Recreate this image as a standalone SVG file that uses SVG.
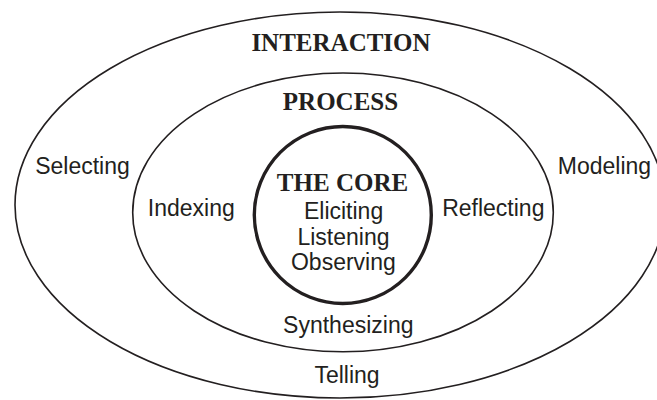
<svg xmlns="http://www.w3.org/2000/svg" width="657" height="400" viewBox="0 0 657 400">
  <style>
    .ring { fill: none; stroke: #231f20; stroke-width: 1.6; }
    .core { fill: none; stroke: #231f20; stroke-width: 3.4; }
    .title { font-family: "Liberation Serif", "Times New Roman", serif; font-weight: bold; font-size: 25px; fill: #231f20; text-anchor: middle; }
    .item { font-family: "Liberation Sans", Arial, Helvetica, sans-serif; font-size: 23px; fill: #231f20; text-anchor: middle; }
  </style>
  <rect width="657" height="400" fill="#ffffff"/>

  <!-- outer ring: interaction -->
  <g id="interaction">
    <ellipse class="ring" cx="340" cy="205" rx="325" ry="193"/>
    <text class="title" x="341" y="51">INTERACTION</text>
    <text class="item" x="82.5" y="174">Selecting</text>
    <text class="item" x="604.5" y="174">Modeling</text>
    <text class="item" x="347" y="383">Telling</text>
  </g>

  <!-- middle ring: process -->
  <g id="process">
    <ellipse class="ring" cx="343" cy="212.4" rx="210.3" ry="139.4"/>
    <text class="title" x="340.5" y="110">PROCESS</text>
    <text class="item" x="191.3" y="215.5">Indexing</text>
    <text class="item" x="493.3" y="215.5">Reflecting</text>
    <text class="item" x="348.3" y="332.5">Synthesizing</text>
  </g>

  <!-- inner circle: the core -->
  <g id="core">
    <circle class="core" cx="342.8" cy="215" r="88.5"/>
    <text class="title" x="342.5" y="190.5">THE CORE</text>
    <text class="item" x="343.6" y="219.3">Eliciting</text>
    <text class="item" x="343.5" y="245">Listening</text>
    <text class="item" x="343.4" y="270">Observing</text>
  </g>

  <!-- no connectors: the rings are simply nested -->
  <g id="connectors"/>
</svg>
